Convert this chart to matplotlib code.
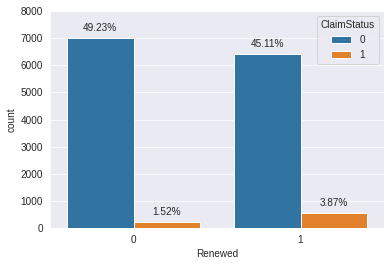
import numpy as np
import matplotlib
matplotlib.use("Agg")
import matplotlib.pyplot as plt
import seaborn as sns

# counts per Renewed group, split by ClaimStatus
renewed = ['0', '1']
claim_status = ['0', '1']
counts_claim0 = [6990, 6405]
counts_claim1 = [216, 550]
pct_claim0 = ['49.23%', '45.11%']
pct_claim1 = ['1.52%', '3.87%']

sns.set_style("darkgrid")
plt.rcParams['font.family'] = ['Liberation Sans', 'DejaVu Sans']

fig = plt.figure(figsize=(391/72, 264/72), dpi=72)
ax = fig.add_axes([50/391, 36/264, 334/391, 217/264])

colors = ['#3274a1', '#e1812c']
x = np.arange(len(renewed))
w = 0.4
b0 = ax.bar(x - w/2, counts_claim0, w, color=colors[0], edgecolor='white', linewidth=1, label=claim_status[0])
b1 = ax.bar(x + w/2, counts_claim1, w, color=colors[1], edgecolor='white', linewidth=1, label=claim_status[1])

for bars, labels in [(b0, pct_claim0), (b1, pct_claim1)]:
    for rect, lab in zip(bars, labels):
        ax.annotate(lab, (rect.get_x() + rect.get_width()/2, rect.get_height()),
                    xytext=(0, 10), textcoords='offset points',
                    ha='center', va='center', fontsize=10, color='#262626')

ax.set_xlim(-0.5, 1.5)
ax.set_ylim(0, 8000)
ax.set_xticks(x)
ax.set_xticklabels(renewed, fontsize=10)
ax.tick_params(axis='y', labelsize=10)
ax.xaxis.grid(False)
ax.set_xlabel('Renewed', fontsize=10)
ax.set_ylabel('count', fontsize=10)
ax.legend(title='ClaimStatus', loc='upper right', fontsize=10, title_fontsize=10)

fig.savefig('out.png', dpi=72)
